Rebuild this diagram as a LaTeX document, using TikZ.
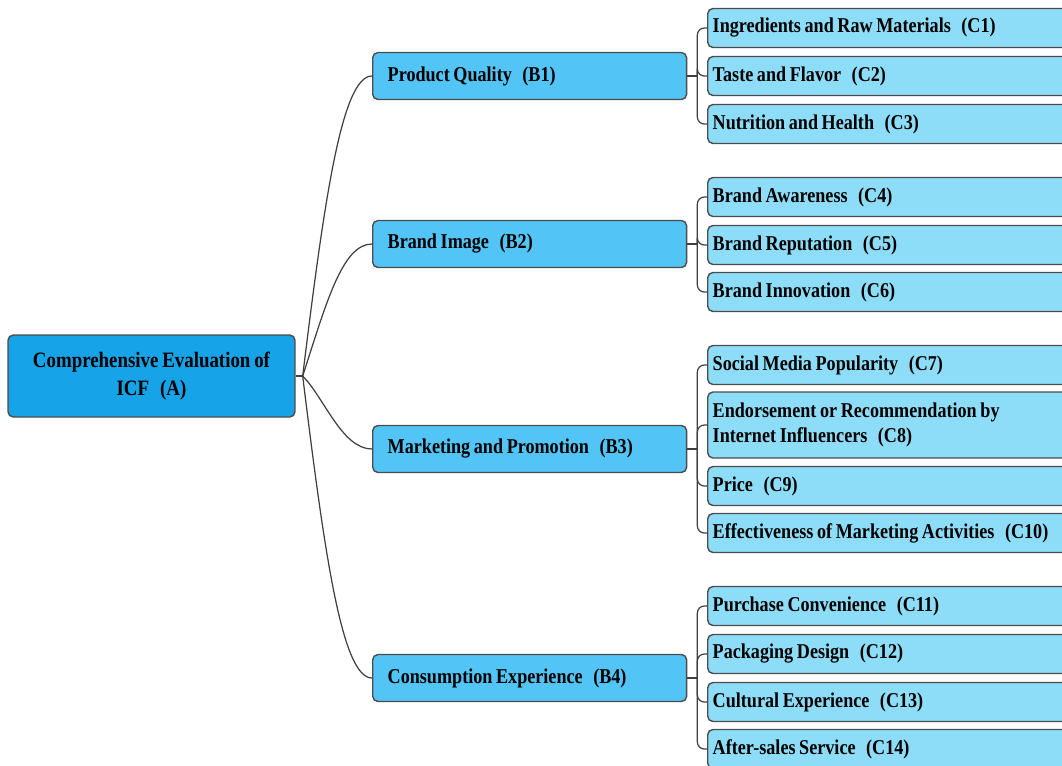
\documentclass[tikz,border=0pt]{standalone}
\usepackage{fontspec}
\setmainfont{Liberation Serif}[FakeStretch=0.86, WordSpace=0.8]
\definecolor{rootblue}{RGB}{22,163,232}
\definecolor{midblue}{RGB}{82,196,245}
\definecolor{leafblue}{RGB}{142,221,248}
\begin{document}
\begin{tikzpicture}[x=0.02cm, y=-0.02cm,
	box/.style={draw=black!70, line width=0.8pt, rounded corners=3pt, inner ysep=0pt, font=\fontsize{12}{14.5}\selectfont\bfseries},
	rootbox/.style={box, fill=rootblue, minimum width=5.74cm, minimum height=1.64cm, align=center, font=\fontsize{12.5}{16}\selectfont\bfseries},
	midbox/.style={box, fill=midblue, anchor=west, inner xsep=0.3cm, text width=5.68cm, minimum height=0.94cm, align=flush left},
	leafbox/.style={box, fill=leafblue, anchor=west, inner xsep=0.1cm, text width=7.6cm, minimum height=0.78cm, align=flush left},
	link/.style={draw=black!75, line width=0.7pt}]
		\clip (0,0) rectangle (1062,765);

		\node[rootbox] (a) at (151.5,376) {Comprehensive Evaluation of\\ICF\enspace(A)};

		\node[midbox] (b1) at (372,76) {Product Quality\enspace(B1)};
		\node[midbox] (b2) at (372,244) {Brand Image\enspace(B2)};
		\node[midbox] (b3) at (372,449) {Marketing and Promotion\enspace(B3)};
		\node[midbox] (b4) at (372,678) {Consumption Experience\enspace(B4)};

		\node[leafbox] (c1) at (707,28) {Ingredients and Raw Materials\enspace(C1)};
		\node[leafbox] (c2) at (707,76) {Taste and Flavor\enspace(C2)};
		\node[leafbox] (c3) at (707,124) {Nutrition and Health\enspace(C3)};
		\node[leafbox] (c4) at (707,197) {Brand Awareness\enspace(C4)};
		\node[leafbox] (c5) at (707,245) {Brand Reputation\enspace(C5)};
		\node[leafbox] (c6) at (707,292) {Brand Innovation\enspace(C6)};
		\node[leafbox] (c7) at (707,365) {Social Media Popularity\enspace(C7)};
		\node[leafbox, minimum height=1.32cm] (c8) at (707,425) {Endorsement or Recommendation by\\Internet Influencers\enspace(C8)};
		\node[leafbox] (c9) at (707,486) {Price\enspace(C9)};
		\node[leafbox] (c10) at (707,533) {Effectiveness of Marketing Activities\enspace(C10)};
		\node[leafbox] (c11) at (707,606) {Purchase Convenience\enspace(C11)};
		\node[leafbox] (c12) at (707,654) {Packaging Design\enspace(C12)};
		\node[leafbox] (c13) at (707,702) {Cultural Experience\enspace(C13)};
		\node[leafbox] (c14) at (707,749) {After-sales Service\enspace(C14)};

		% root to the four criteria
		\draw[link] (a.east) -- ++(7,0) coordinate (hub);
		\foreach \b/\o/\d in {b1/83/3.6cm, b2/72/1.5cm, b3/-45/0.6cm, b4/-83/3.6cm}
			\draw[link] (hub) to[out=\o, in=180, out distance=\d, in distance=0.6cm] (\b.west);

		% criteria to their indicators
		\foreach \b/\cs in {b1/{c1,c2,c3}, b2/{c4,c5,c6}, b3/{c7,c8,c9,c10}, b4/{c11,c12,c13,c14}} {
			\draw[link] (\b.east) -- ++(10,0) coordinate (bus);
			\foreach \c in \cs
				\draw[link, rounded corners=4pt] (bus) |- (\c.west);
		}
	\end{tikzpicture}
\end{document}
